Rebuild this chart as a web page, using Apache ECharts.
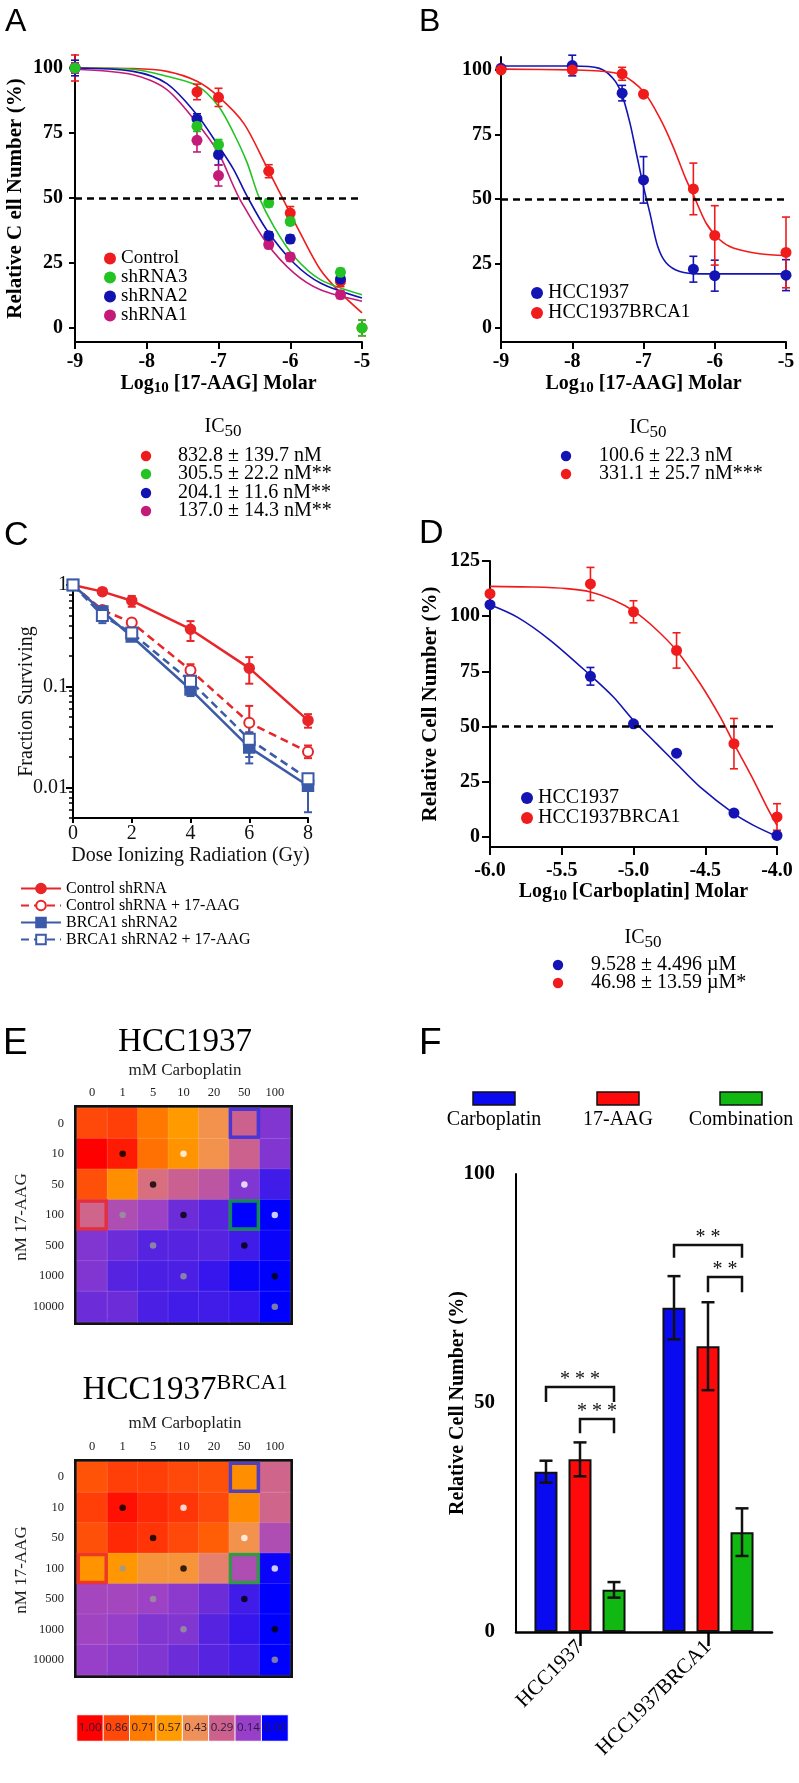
<!DOCTYPE html>
<html><head><meta charset="utf-8">
<script src="https://cdn.jsdelivr.net/npm/echarts@6/dist/echarts.min.js"></script>
<style>html,body{margin:0;padding:0;background:#fff}#c{width:799px;height:1783px}</style>
</head><body><div id="c"></div>
<script>
const SERIF = '"Liberation Serif", "Times New Roman", serif';
const SANS = '"Liberation Sans", Arial, sans-serif';

// ---------- Panel A ----------
const aX = [-9, -7.3, -7, -6.3, -6, -5.3, -5];
const aNames = ['Control', 'shRNA3', 'shRNA2', 'shRNA1'];
const aControl = [100, 90.8, 88.7, 60.3, 44.2, 17.9, 0];
const aShRNA3 = [100, 77.6, 70.5, 48.1, 41.0, 21.4, 0];
const aShRNA2 = [100, 80.4, 66.7, 35.5, 34.2, 18.8, null];
const aShRNA1 = [100, 72.2, 58.6, 32.1, 27.3, 12.8, null];
const aControlErr = [5, 3, 3.5, 2.5, 2.5, 2, 3];
const aShRNA3Err = [2, 2, 2, 1.5, 1.5, 1.5, 3];
const aShRNA2Err = [3, 2, 4, 1.5, 1.5, 2, 0];
const aShRNA1Err = [2, 4.5, 4, 1.5, 1.5, 1.5, 0];
const aFitControl = [[-9,100],[-8.19,99.8],[-7.72,98.7],[-7.3,94.9],[-7.0,89],[-6.65,78.8],[-6.33,62],[-6.12,50.6],[-5.86,36.5],[-5.58,22.4],[-5.3,13.5],[-5.0,5.8]];
const aFitShRNA3 = [[-9,100],[-8.19,99.5],[-7.72,96.8],[-7.3,93.2],[-7.0,85.3],[-6.79,75],[-6.6,63.5],[-6.44,50.6],[-6.23,39.1],[-5.95,27.6],[-5.58,18.6],[-5.0,12.8]];
const aFitShRNA2 = [[-9,100],[-8.19,98.7],[-7.72,94],[-7.3,82],[-7.0,70],[-6.79,61],[-6.6,50.6],[-6.33,37.8],[-5.95,25],[-5.58,17.3],[-5.0,11.5]];
const aFitShRNA1 = [[-9,99.5],[-8.19,97.4],[-7.72,91.7],[-7.3,78.8],[-7.0,67.3],[-6.79,54.5],[-6.7,49.4],[-6.33,32.7],[-5.95,21.2],[-5.58,14.7],[-5.0,10.3]];
const aIC50 = ['832.8 \u00b1 139.7 nM', '305.5 \u00b1 22.2 nM**', '204.1 \u00b1 11.6 nM**', '137.0 \u00b1 14.3 nM**'];
const aYTicks = [0, 25, 50, 75, 100];

// ---------- Panel B ----------
const bX = [-9, -8, -7.3, -7, -6.3, -6, -5];
const bNames = ['HCC1937', 'HCC1937BRCA1'];
const bHCC = [100.6, 101.7, 91, 57.4, 22.8, 20.3, 20.5];
const bBRCA = [100, 100, 98.5, 90.6, 53.9, 35.9, 29.3];
const bHCCErr = [1, 4, 3, 9, 5, 6, 6];
const bBRCAErr = [1, 1, 2.5, 1, 10, 11.5, 13.7];
const bFitHCC = [[-9,101.5],[-8,101.5],[-7.62,100.6],[-7.43,96.8],[-7.31,91],[-7.19,79.4],[-7.1,67.7],[-7.0,54.8],[-6.91,44.5],[-6.8,31.6],[-6.68,25.2],[-6.49,21.9],[-6.21,21],[-5,21]];
const bFitBRCA = [[-9,100.3],[-8,100],[-7.62,99.6],[-7.31,98.1],[-7.0,91.6],[-6.77,81.3],[-6.585,70.3],[-6.4,57.4],[-6.3,51.6],[-6.12,40.6],[-5.93,34.2],[-5.74,31],[-5.37,28.8],[-5,28.1]];
const bIC50 = ['100.6 \u00b1 22.3 nM', '331.1 \u00b1 25.7 nM***'];

// ---------- Panel C ----------
const cX = [0, 1, 2, 4, 6, 8];
const cNames = ['Control shRNA', 'Control shRNA + 17-AAG', 'BRCA1 shRNA2', 'BRCA1 shRNA2 + 17-AAG'];
const cCtrl = [1, 0.86, 0.70, 0.366, 0.151, 0.046];
const cCtrlLo = [1, 0.80, 0.61, 0.28, 0.106, 0.039];
const cCtrlHi = [1, 0.92, 0.78, 0.44, 0.194, 0.053];
const cCtrlAAG = [1, 0.567, 0.426, 0.144, 0.0436, 0.0225];
const cCtrlAAGLo = [1, 0.52, 0.39, 0.125, 0.035, 0.0195];
const cCtrlAAGHi = [1, 0.62, 0.46, 0.165, 0.064, 0.026];
const cBrca = [1, 0.547, 0.31, 0.093, 0.0249, 0.0104];
const cBrcaLo = [1, 0.42, 0.28, 0.08, 0.0173, 0.0057];
const cBrcaHi = [1, 0.6, 0.35, 0.105, 0.035, 0.0135];
const cBrcaAAG = [1, 0.50, 0.335, 0.112, 0.030, 0.0122];
const cBrcaAAGLo = [1, 0.44, 0.30, 0.095, 0.020, 0.011];
const cBrcaAAGHi = [1, 0.60, 0.37, 0.125, 0.042, 0.0135];
const cMajorTicks = [0.01, 0.1, 1];
const cMinorTicks = [0.005,0.006,0.007,0.008,0.009,0.02,0.03,0.04,0.05,0.06,0.07,0.08,0.09,0.2,0.3,0.4,0.5,0.6,0.7,0.8,0.9];

// ---------- Panel D ----------
const dX = [-6, -5.3, -5, -4.7, -4.3, -4];
const dHCC = [105.2, 72.8, 51.3, 38, 10.9, 0.75];
const dBRCA = [110.2, 114.6, 102, 84.5, 42.3, 9.1];
const dHCCErr = [1, 4, 1, 1, 1, 1];
const dBRCAErr = [1, 7.5, 5, 8, 11.4, 6];
const dFitHCC = [[-6,105.2],[-5.81,99.6],[-5.58,89.1],[-5.3,73.2],[-5.14,63.4],[-5.0,52.8],[-4.84,42.3],[-4.7,33.2],[-4.535,22.6],[-4.3,10.6],[-4.163,5.3],[-4.0,0.3]];
const dFitBRCA = [[-6,113.5],[-5.7,113.2],[-5.465,112.5],[-5.3,111],[-5.14,107.3],[-5.0,102.4],[-4.86,95.1],[-4.7,84.5],[-4.535,69.4],[-4.395,54.3],[-4.3,42.3],[-4.163,25.7],[-4.07,13.6],[-4.0,5.3]];
const dIC50 = ['9.528 \u00b1 4.496 \u00b5M', '46.98 \u00b1 13.59 \u00b5M*'];
const dYTicks = [0, 25, 50, 75, 100, 125];

// ---------- Panel E ----------
const eCols = ['0', '1', '5', '10', '20', '50', '100'];
const eRows = ['0', '10', '50', '100', '500', '1000', '10000'];
const eHCC = [
  [0.86, 0.88, 0.72, 0.57, 0.45, 0.29, 0.12],
  [1.00, 0.95, 0.74, 0.60, 0.45, 0.29, 0.12],
  [0.84, 0.62, 0.33, 0.28, 0.24, 0.12, 0.06],
  [0.30, 0.20, 0.15, 0.10, 0.08, 0.00, 0.00],
  [0.12, 0.10, 0.08, 0.08, 0.08, 0.06, 0.01],
  [0.12, 0.08, 0.07, 0.07, 0.05, 0.01, 0.00],
  [0.10, 0.10, 0.07, 0.06, 0.06, 0.05, 0.00]
];
const eBRCA = [
  [0.83, 0.88, 0.88, 0.86, 0.84, 0.62, 0.30],
  [0.88, 0.97, 0.92, 0.90, 0.86, 0.64, 0.30],
  [0.84, 0.92, 0.90, 0.86, 0.80, 0.45, 0.20],
  [0.60, 0.58, 0.48, 0.48, 0.38, 0.20, 0.01],
  [0.17, 0.17, 0.15, 0.13, 0.10, 0.06, 0.00],
  [0.16, 0.14, 0.12, 0.12, 0.08, 0.05, 0.00],
  [0.14, 0.13, 0.12, 0.10, 0.08, 0.06, 0.00]
];
const eDots = [[1,1,'k'],[3,1,'w'],[2,2,'k'],[5,2,'w'],[1,3,'g'],[3,3,'k'],[6,3,'w'],[2,4,'g'],[5,4,'k'],[3,5,'g'],[6,5,'k'],[6,6,'g']];
const eBoxes = [[5,0,'#2a2ae6'],[0,3,'#e8202a'],[5,3,'#1aa830']];
const cbLabels = ['1.00', '0.86', '0.71', '0.57', '0.43', '0.29', '0.14', '0.00'];
const heatColors = ['#0000ff', '#9a40c8', '#cc6090', '#f0905a', '#ff9a00', '#ff7a00', '#ff4a0a', '#ff0000'];

// ---------- Panel F ----------
const fCats = ['HCC1937', 'HCC1937BRCA1'];
const fNames = ['Carboplatin', '17-AAG', 'Combination'];
const fCarbo = [35.0, 70.8];
const f17AAG = [37.7, 62.4];
const fCombo = [9.2, 21.8];
const fCarboErr = [2.4, 6.9];
const f17AAGErr = [3.7, 9.6];
const fComboErr = [1.7, 5.2];
const fSig = [[0, 0, 2, 53.5, 50.2], [0, 1, 2, 46.5, 43.4], [1, 0, 2, 84.5, 81.7], [1, 1, 2, 77.5, 74.2]];
const fSigText = ['* * *', '* * *', '* *', '* *'];
const fColors = ['#0a0af0', '#ff0a0a', '#12b812'];

// ================= build =================
const chart = echarts.init(document.getElementById('c'), null, {width: 799, height: 1783});

const gridBase = {outerBoundsMode: 'none', containLabel: false};
const grids = [
  {left: 75, top: 55, width: 287, height: 287},    // A
  {left: 501, top: 57, width: 285, height: 285},   // B
  {left: 73, top: 585, width: 235, height: 233},   // C
  {left: 490, top: 561, width: 287, height: 286},  // D
  {left: 77, top: 1108, width: 213, height: 214, show: true, borderColor: '#111', borderWidth: 6, backgroundColor: 'transparent'}, // E1
  {left: 77, top: 1462, width: 213, height: 213, show: true, borderColor: '#111', borderWidth: 6, backgroundColor: 'transparent'}, // E2
  {left: 77, top: 1715, width: 211, height: 26},  // colorbar
  {left: 516, top: 1174, width: 256, height: 458} // F
].map(g => Object.assign({}, gridBase, g));

const blk = '#000';
const boldLbl = (fs, margin, extra) => Object.assign({color: blk, fontFamily: SERIF, fontWeight: 'bold', fontSize: fs, margin: margin}, extra || {});
const axLine = w => ({show: true, onZero: false, lineStyle: {color: blk, width: w}});
const subRich = {
  s: {fontFamily: SERIF, fontWeight: 'bold', fontSize: 15, lineHeight: 14, verticalAlign: 'bottom', color: blk}
};

const xAxes = [
  {type: 'value', gridIndex: 0, min: -9, max: -5, interval: 1, axisLine: axLine(2), axisTick: {length: 7, lineStyle: {color: blk, width: 2}}, axisLabel: boldLbl(20, 10), splitLine: {show: false},
   name: 'Log{s|10} [17-AAG] Molar', nameLocation: 'middle', nameGap: 30, nameMoveOverlap: false,
   nameTextStyle: {fontFamily: SERIF, fontWeight: 'bold', fontSize: 20, lineHeight: 24, color: blk, rich: subRich}},
  {type: 'value', gridIndex: 1, min: -9, max: -5, interval: 1, axisLine: axLine(2), axisTick: {length: 7, lineStyle: {color: blk, width: 2}}, axisLabel: boldLbl(20, 10), splitLine: {show: false},
   name: 'Log{s|10} [17-AAG] Molar', nameLocation: 'middle', nameGap: 30, nameMoveOverlap: false,
   nameTextStyle: {fontFamily: SERIF, fontWeight: 'bold', fontSize: 20, lineHeight: 24, color: blk, rich: subRich}},
  {type: 'value', gridIndex: 2, min: 0, max: 8, interval: 2, axisLine: axLine(2), axisTick: {length: 5, lineStyle: {color: blk, width: 2}},
   axisLabel: {color: '#111', fontFamily: SERIF, fontSize: 20, margin: 6}, splitLine: {show: false},
   name: 'Dose Ionizing Radiation (Gy)', nameLocation: 'middle', nameGap: 28, nameMoveOverlap: false,
   nameTextStyle: {fontFamily: SERIF, fontSize: 20, color: '#111'}},
  {type: 'value', gridIndex: 3, min: -6, max: -4, interval: 0.5, axisLine: axLine(2), axisTick: {length: 8, lineStyle: {color: blk, width: 2}},
   axisLabel: boldLbl(20, 14, {formatter: v => v.toFixed(1)}), splitLine: {show: false},
   name: 'Log{s|10} [Carboplatin] Molar', nameLocation: 'middle', nameGap: 33, nameMoveOverlap: false,
   nameTextStyle: {fontFamily: SERIF, fontWeight: 'bold', fontSize: 20, lineHeight: 24, color: blk, rich: subRich}},
  {type: 'category', gridIndex: 4, position: 'top', data: eCols, axisLine: {show: false}, axisTick: {show: false},
   axisLabel: {fontFamily: SERIF, fontSize: 12.5, color: '#222', margin: 9}, splitLine: {show: false}},
  {type: 'category', gridIndex: 5, position: 'top', data: eCols, axisLine: {show: false}, axisTick: {show: false},
   axisLabel: {fontFamily: SERIF, fontSize: 12.5, color: '#222', margin: 9}, splitLine: {show: false}},
  {type: 'category', gridIndex: 6, data: cbLabels, show: false},
  {type: 'category', gridIndex: 7, data: fCats, axisLine: {show: true, lineStyle: {color: blk, width: 2.5}},
   axisTick: {show: true, alignWithLabel: true, length: 14, lineStyle: {color: blk, width: 2.5}},
   axisLabel: {rotate: 45, interval: 0, fontFamily: SERIF, fontSize: 21, color: blk, margin: 12}}
];

const yAxes = [
  {type: 'value', gridIndex: 0, min: -5.4, max: 105, axisLine: axLine(2), axisTick: {length: 6, customValues: aYTicks, lineStyle: {color: blk, width: 2}},
   axisLabel: boldLbl(20, 12, {customValues: aYTicks}), splitLine: {show: false},
   name: 'Relative C ell Number (%)', nameLocation: 'middle', nameGap: 49, nameMoveOverlap: false,
   nameTextStyle: {fontFamily: SERIF, fontWeight: 'bold', fontSize: 21, color: blk}},
  {type: 'value', gridIndex: 1, min: -5.4, max: 105, axisLine: axLine(2), axisTick: {length: 6, customValues: aYTicks, lineStyle: {color: blk, width: 2}},
   axisLabel: boldLbl(20, 9, {customValues: aYTicks}), splitLine: {show: false}},
  {type: 'log', gridIndex: 2, logBase: 10, min: 0.005, max: 1, position: 'left', axisLine: axLine(2),
   axisTick: {length: 7, customValues: cMajorTicks, lineStyle: {color: blk, width: 2}},
   axisLabel: {customValues: cMajorTicks, color: '#111', fontFamily: SERIF, fontSize: 20, margin: 5,
     formatter: v => ({'-2': '0.01', '-1': '0.1', '0': '1'})[String(Math.round(Math.log10(v)))]},
   splitLine: {show: false},
   name: 'Fraction Surviving', nameLocation: 'middle', nameGap: 36, nameMoveOverlap: false,
   nameTextStyle: {fontFamily: SERIF, fontSize: 20, color: '#111'}},
  {type: 'log', gridIndex: 2, logBase: 10, min: 0.005, max: 1, position: 'left', offset: 0, axisLine: {show: false},
   axisTick: {length: 4, customValues: cMinorTicks, lineStyle: {color: blk, width: 1.5}},
   axisLabel: {show: false}, splitLine: {show: false}},
  {type: 'value', gridIndex: 3, min: -4.5, max: 125, axisLine: axLine(2), axisTick: {length: 8, customValues: dYTicks, lineStyle: {color: blk, width: 2}},
   axisLabel: boldLbl(20, 10, {customValues: dYTicks}), splitLine: {show: false},
   name: 'Relative Cell Number (%)', nameLocation: 'middle', nameGap: 49, nameMoveOverlap: false,
   nameTextStyle: {fontFamily: SERIF, fontWeight: 'bold', fontSize: 21, color: blk}},
  {type: 'category', gridIndex: 4, inverse: true, data: eRows, axisLine: {show: false}, axisTick: {show: false},
   axisLabel: {fontFamily: SERIF, fontSize: 12.5, color: '#222', margin: 13}},
  {type: 'category', gridIndex: 5, inverse: true, data: eRows, axisLine: {show: false}, axisTick: {show: false},
   axisLabel: {fontFamily: SERIF, fontSize: 12.5, color: '#222', margin: 13}},
  {type: 'category', gridIndex: 6, data: [''], show: false},
  {type: 'value', gridIndex: 7, min: 0, max: 100, interval: 50, axisLine: axLine(2), axisTick: {length: 16, lineStyle: {color: blk, width: 2}},
   axisLabel: boldLbl(21, 21), splitLine: {show: false},
   name: 'Relative Cell Number (%)', nameLocation: 'middle', nameGap: 48, nameMoveOverlap: false,
   nameTextStyle: {fontFamily: SERIF, fontWeight: 'bold', fontSize: 20, color: blk}}
];

const series = [];
function errSeries(xi, yi, data, color, cap, w, z) {
  return {type: 'custom', xAxisIndex: xi, yAxisIndex: yi, data: data, silent: true, z: z || 3,
    renderItem: (p, api) => {
      const x = api.value(0);
      const a = api.coord([x, api.value(1)]), b = api.coord([x, api.value(2)]);
      const st = {stroke: color, lineWidth: w};
      return {type: 'group', children: [
        {type: 'line', shape: {x1: a[0], y1: a[1], x2: b[0], y2: b[1]}, style: st},
        {type: 'line', shape: {x1: a[0] - cap, y1: a[1], x2: a[0] + cap, y2: a[1]}, style: st},
        {type: 'line', shape: {x1: b[0] - cap, y1: b[1], x2: b[0] + cap, y2: b[1]}, style: st}
      ]};
    }};
}
const pm = (xs, ys, es) => xs.map((x, i) => ys[i] == null ? null : [x, ys[i] - es[i], ys[i] + es[i]]).filter(d => d);
const pts = (xs, ys) => xs.map((x, i) => ys[i] == null ? null : [x, ys[i]]).filter(d => d);
const dash50 = {silent: true, symbol: ['none', 'none'], label: {show: false}, lineStyle: {color: blk, type: [7, 5], width: 2.5}, data: [{yAxis: 50}]};
function fitSeries(xi, yi, data, color, withMark) {
  const s = {type: 'line', xAxisIndex: xi, yAxisIndex: yi, data: data, smooth: 0.3, symbol: 'none', silent: true,
    lineStyle: {color: color, width: 1.6}, z: 2};
  if (withMark) s.markLine = dash50;
  return s;
}

// A
const aColors = ['#ee1c1c', '#22c322', '#1212b0', '#c41b78'];
const aYs = [aControl, aShRNA3, aShRNA2, aShRNA1];
const aErrs = [aControlErr, aShRNA3Err, aShRNA2Err, aShRNA1Err];
const aFits = [aFitControl, aFitShRNA3, aFitShRNA2, aFitShRNA1];
aFits.forEach((f, i) => series.push(fitSeries(0, 0, f, aColors[i], i === 0)));
aYs.forEach((y, i) => series.push(errSeries(0, 0, pm(aX, y, aErrs[i]).filter(d => d[2] - d[1] > 0.1), aColors[i], 4, 1.6)));
[0, 3, 2, 1].forEach(i => series.push({type: 'scatter', name: aNames[i], xAxisIndex: 0, yAxisIndex: 0, data: pts(aX, aYs[i]),
  symbolSize: 11, itemStyle: {color: aColors[i], opacity: 1}, z: 4}));

// B
const bColors = ['#1414b4', '#f01c1c'];
series.push(fitSeries(1, 1, bFitHCC, bColors[0], true));
series.push(fitSeries(1, 1, bFitBRCA, bColors[1], false));
series.push(errSeries(1, 1, pm(bX, bHCC, bHCCErr), bColors[0], 4, 1.6));
series.push(errSeries(1, 1, pm(bX, bBRCA, bBRCAErr), bColors[1], 4, 1.6));
series.push({type: 'scatter', name: bNames[0], xAxisIndex: 1, yAxisIndex: 1, data: pts(bX, bHCC), symbolSize: 11, itemStyle: {color: bColors[0], opacity: 1}, z: 4});
series.push({type: 'scatter', name: bNames[1], xAxisIndex: 1, yAxisIndex: 1, data: pts(bX, bBRCA), symbolSize: 11, itemStyle: {color: bColors[1], opacity: 1}, z: 4});

// C
const cRed = '#e8262a', cBlue = '#3b5aa8';
const cDefs = [
  {y: cCtrl, lo: cCtrlLo, hi: cCtrlHi, color: cRed, dash: 'solid', symbol: 'circle', size: 9},
  {y: cCtrlAAG, lo: cCtrlAAGLo, hi: cCtrlAAGHi, color: cRed, dash: [8, 5], symbol: 'emptyCircle', size: 10},
  {y: cBrca, lo: cBrcaLo, hi: cBrcaHi, color: cBlue, dash: 'solid', symbol: 'rect', size: 10},
  {y: cBrcaAAG, lo: cBrcaAAGLo, hi: cBrcaAAGHi, color: cBlue, dash: [8, 5], symbol: 'emptyRect', size: 11}
];
cDefs.forEach(d => series.push(errSeries(2, 2, cX.map((x, i) => [x, d.lo[i], d.hi[i]]).filter(e => e[2] - e[1] > 1e-6), d.color, 4, 2)));
cDefs.forEach((d, i) => series.push({type: 'line', name: cNames[i], xAxisIndex: 2, yAxisIndex: 2, data: pts(cX, d.y),
  symbol: d.symbol, symbolSize: d.size, showSymbol: true,
  lineStyle: {color: d.color, width: 2.5, type: d.dash}, itemStyle: {color: d.color, borderColor: d.color, borderWidth: 2.5}, z: 4}));

// D
series.push(fitSeries(3, 4, dFitHCC, bColors[0], true));
series.push(fitSeries(3, 4, dFitBRCA, bColors[1], false));
series.push(errSeries(3, 4, pm(dX, dHCC, dHCCErr), bColors[0], 4, 1.6));
series.push(errSeries(3, 4, pm(dX, dBRCA, dBRCAErr), bColors[1], 4, 1.6));
series.push({type: 'scatter', name: bNames[0], xAxisIndex: 3, yAxisIndex: 4, data: pts(dX, dHCC), symbolSize: 11, itemStyle: {color: bColors[0], opacity: 1}, z: 4});
series.push({type: 'scatter', name: bNames[1], xAxisIndex: 3, yAxisIndex: 4, data: pts(dX, dBRCA), symbolSize: 11, itemStyle: {color: bColors[1], opacity: 1}, z: 4});

// E
const heatIdx = [];
const dotCol = {k: '#000', w: '#fff', g: '#999'};
[[eHCC, 4, 5], [eBRCA, 5, 6]].forEach(([m, xi, yi]) => {
  const data = [];
  m.forEach((row, r) => row.forEach((v, c) => data.push([c, r, v])));
  heatIdx.push(series.length);
  series.push({type: 'heatmap', xAxisIndex: xi, yAxisIndex: yi, data: data, silent: true,
    itemStyle: {borderColor: 'rgba(255,255,255,0.12)', borderWidth: 1}, z: 2});
  series.push({type: 'scatter', xAxisIndex: xi, yAxisIndex: yi, silent: true, symbolSize: 6.5, z: 5,
    data: eDots.map(d => ({value: [d[0], d[1]], itemStyle: {color: dotCol[d[2]]}}))});
  series.push({type: 'scatter', xAxisIndex: xi, yAxisIndex: yi, silent: true, symbol: 'rect', symbolSize: [28, 28], z: 6,
    data: eBoxes.map(d => ({value: [d[0], d[1]], itemStyle: {color: 'rgba(0,0,0,0)', borderColor: d[2], borderWidth: 3.5}}))});
});
heatIdx.push(series.length);
series.push({type: 'heatmap', xAxisIndex: 6, yAxisIndex: 7, silent: true,
  data: cbLabels.map((l, i) => [i, 0, Number(l)]),
  itemStyle: {borderColor: '#fff', borderWidth: 1},
  label: {show: true, formatter: p => cbLabels[p.dataIndex], fontFamily: '"Open Sans", "DejaVu Sans", sans-serif', fontSize: 11.5, color: '#2a1a3a'}});

// F
const fVals = [fCarbo, f17AAG, fCombo];
const fErrs = [fCarboErr, f17AAGErr, fComboErr];
const BW = 23, BSTEP = 34;
fVals.forEach((v, k) => series.push({type: 'bar', name: fNames[k], xAxisIndex: 7, yAxisIndex: 8, data: v,
  barWidth: BW, barGap: '48%', itemStyle: {color: fColors[k], borderColor: '#111', borderWidth: 2}, z: 2}));
series.push({type: 'custom', xAxisIndex: 7, yAxisIndex: 8, silent: true, z: 5,
  data: fVals.flatMap((v, k) => v.map((y, c) => [c, y - fErrs[k][c], y + fErrs[k][c], k])),
  renderItem: (p, api) => {
    const k = api.value(3);
    const a = api.coord([api.value(0), api.value(1)]), b = api.coord([api.value(0), api.value(2)]);
    const x = a[0] + (k - 1) * BSTEP, cap = 6.5;
    const st = {stroke: '#111', lineWidth: 2.5};
    return {type: 'group', children: [
      {type: 'line', shape: {x1: x, y1: a[1], x2: x, y2: b[1]}, style: st},
      {type: 'line', shape: {x1: x - cap, y1: a[1], x2: x + cap, y2: a[1]}, style: st},
      {type: 'line', shape: {x1: x - cap, y1: b[1], x2: x + cap, y2: b[1]}, style: st}
    ]};
  }});
series.push({type: 'custom', xAxisIndex: 7, yAxisIndex: 8, silent: true, z: 5, data: fSig,
  renderItem: (p, api) => {
    const c = api.value(0), k1 = api.value(1), k2 = api.value(2);
    const top = api.coord([c, api.value(3)]), leg = api.coord([c, api.value(4)]);
    const x1 = top[0] + (k1 - 1) * BSTEP, x2 = top[0] + (k2 - 1) * BSTEP;
    return {type: 'group', children: [
      {type: 'polyline', shape: {points: [[x1, leg[1]], [x1, top[1]], [x2, top[1]], [x2, leg[1]]]}, style: {stroke: '#111', lineWidth: 2.5, fill: null}},
      {type: 'text', x: (x1 + x2) / 2, y: top[1] - 7, style: {text: fSigText[p.dataIndex], fontFamily: SERIF, fontSize: 20, fill: '#111', align: 'center', verticalAlign: 'middle'}}
    ]};
  }});

// ---------- legends ----------
const legText = (fs, lh) => ({fontFamily: SERIF, fontSize: fs, color: blk, lineHeight: lh,
  rich: {b: {fontFamily: SERIF, fontSize: 19, color: blk, lineHeight: 13, verticalAlign: 'top'}}});
const brFmt = n => n === 'HCC1937BRCA1' ? 'HCC1937{b|BRCA1}' : n;
const legends = [
  {data: aNames, left: 104, top: 249, orient: 'vertical', icon: 'circle', itemWidth: 12, itemHeight: 12, itemGap: 0, textStyle: legText(19, 19), selectedMode: false},
  {data: bNames, left: 531, top: 283, orient: 'vertical', icon: 'circle', itemWidth: 12, itemHeight: 12, itemGap: 0, textStyle: legText(20, 20), formatter: brFmt, selectedMode: false},
  {data: cNames, left: 20, top: 880, orient: 'vertical', itemWidth: 40, itemHeight: 12, itemGap: 0, textStyle: legText(16, 17), selectedMode: false},
  {data: bNames, left: 521, top: 788, orient: 'vertical', icon: 'circle', itemWidth: 12, itemHeight: 12, itemGap: 0, textStyle: legText(20, 20), formatter: brFmt, selectedMode: false}
].map(l => Object.assign({padding: 0, inactiveColor: '#ccc'}, l));

// ---------- graphic texts ----------
const g = [];
const txt = (x, y, text, fs, opts) => g.push(Object.assign({type: 'text', x: x, y: y, silent: true,
  style: Object.assign({text: text, fontFamily: SERIF, fontSize: fs, fill: blk, align: 'left', verticalAlign: 'middle'}, (opts && opts.style) || {})},
  opts && opts.rotation ? {rotation: opts.rotation} : {}));
const dot = (x, y, color) => g.push({type: 'circle', silent: true, shape: {cx: x, cy: y, r: 5.2}, style: {fill: color}});
// panel letters
[['A', 5, 22, 32], ['B', 419, 22, 32], ['C', 4, 536, 34], ['D', 419, 534, 34], ['E', 3, 1044, 37], ['F', 419, 1044, 37]]
  .forEach(([t, x, y, fs]) => txt(x, y, t, fs, {style: {fontFamily: SANS}}));
const icRich = {s: {fontFamily: SERIF, fontSize: 17, lineHeight: 14, verticalAlign: 'bottom', fill: blk}};
function icBlock(cx, cy, dotX, textX, rowY, colors, lines) {
  txt(cx, cy, 'IC{s|50}', 20, {style: {align: 'center', lineHeight: 26, rich: icRich}});
  lines.forEach((l, i) => { dot(dotX, rowY[i], colors[i]); txt(textX, rowY[i], l, 20); });
}
icBlock(223, 427, 146, 178, [456, 474, 493, 511], aColors, aIC50);
icBlock(648, 428, 566, 599, [456, 474], bColors, bIC50);
icBlock(643, 938, 558, 591, [965, 983], bColors, dIC50);
// heatmap titles
txt(185, 1042, 'HCC1937', 33, {style: {align: 'center'}});
txt(185, 1071, 'mM Carboplatin', 17, {style: {align: 'center', fill: '#222'}});
txt(22, 1217, 'nM 17-AAG', 17, {style: {align: 'center', fill: '#222'}, rotation: Math.PI / 2});
txt(185, 1390, 'HCC1937{sup|BRCA1}', 33, {style: {align: 'center', lineHeight: 36,
  rich: {sup: {fontFamily: SERIF, fontSize: 22, lineHeight: 20, verticalAlign: 'top', fill: blk}}}});
txt(185, 1424, 'mM Carboplatin', 17, {style: {align: 'center', fill: '#222'}});
txt(22, 1570, 'nM 17-AAG', 17, {style: {align: 'center', fill: '#222'}, rotation: Math.PI / 2});
// F legend
[[473, 494], [597, 618], [720, 741]].forEach(([rx, tx], k) => {
  g.push({type: 'rect', silent: true, shape: {x: rx, y: 1092, width: 42, height: 13}, style: {fill: fColors[k], stroke: '#111', lineWidth: 1.5}});
  txt(tx, 1120, fNames[k], 20, {style: {align: 'center'}});
});

chart.setOption({
  animation: false,
  backgroundColor: '#fff',
  grid: grids,
  xAxis: xAxes,
  yAxis: yAxes,
  legend: legends,
  visualMap: {type: 'continuous', show: false, min: 0, max: 1, dimension: 2, seriesIndex: heatIdx, inRange: {color: heatColors}},
  series: series,
  graphic: g
});
</script>
</body></html>
